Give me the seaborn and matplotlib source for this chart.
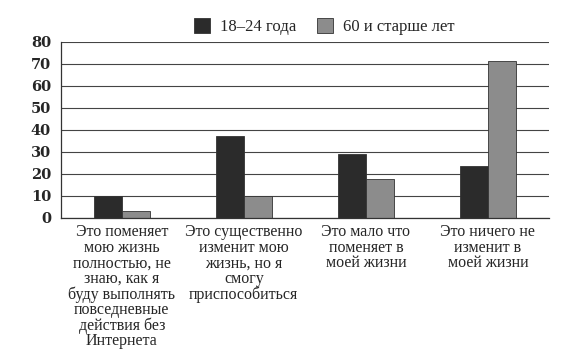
import matplotlib
matplotlib.use("Agg")
import matplotlib.pyplot as plt
import seaborn as sns
import pandas as pd
from matplotlib.ticker import FixedLocator

# data
categories = [
    "Это поменяет\nмою жизнь\nполностью, не\nзнаю, как я\nбуду выполнять\nповседневные\nдействия без\nИнтернета",
    "Это существенно\nизменит мою\nжизнь, но я\nсмогу\nприспособиться",
    "Это мало что\nпоменяет в\nмоей жизни",
    "Это ничего не\nизменит в\nмоей жизни",
]
groups = ["18–24 года", "60 и старше лет"]
young = [10, 37, 29, 23.5]
old = [3, 10, 17.5, 71]
y_ticks = [0, 10, 20, 30, 40, 50, 60, 70, 80]

df = pd.DataFrame({
    "cat": categories * 2,
    "grp": [groups[0]] * 4 + [groups[1]] * 4,
    "val": young + old,
})

sns.set_style("white")
plt.rcParams["font.family"] = ["Liberation Serif", "DejaVu Serif"]

fig = plt.figure(figsize=(5.73, 3.59), dpi=100)
ax = fig.add_axes([0.106, 0.394, 0.852, 0.49])

ax.yaxis.grid(True, color="#444444", linewidth=0.8)
ax.set_axisbelow(True)

sns.barplot(data=df, x="cat", y="val", hue="grp", order=categories,
            palette=["#2b2b2b", "#8c8c8c"], width=0.46, gap=0,
            edgecolor="#333333", linewidth=0.6, ax=ax)

ax.set_ylim(0, 80)
ax.set_xlim(-0.5, 3.5)
ax.set_yticks(y_ticks)
ax.set_yticklabels([str(t) for t in y_ticks], fontsize=10.5, fontweight="bold",
                   family=["DejaVu Serif"])
ax.set_xlabel("")
ax.set_ylabel("")

# category labels without ticks, boundary ticks as minor
ax.tick_params(axis="x", which="major", length=0, pad=5)
ax.xaxis.set_minor_locator(FixedLocator([-0.5, 0.5, 1.5, 2.5, 3.5]))
ax.tick_params(axis="x", which="minor", length=5, width=0.9, color="#333333")
ax.tick_params(axis="y", length=5, width=0.9, color="#333333", pad=2, direction="out")
for lab in ax.get_xticklabels():
    lab.set_fontsize(11.5)
    lab.set_linespacing(0.95)
    lab.set_verticalalignment("top")

for s in ["top", "right"]:
    ax.spines[s].set_visible(False)
for s in ["left", "bottom"]:
    ax.spines[s].set_color("#333333")
    ax.spines[s].set_linewidth(0.9)

leg = ax.legend(ncol=2, loc="lower center", bbox_to_anchor=(0.54, 0.99),
                frameon=False, fontsize=12, handlelength=1.0, handleheight=1.0,
                columnspacing=1.2, handletextpad=0.6, borderaxespad=0.1)

fig.savefig("out.png", dpi=100, facecolor="white")
